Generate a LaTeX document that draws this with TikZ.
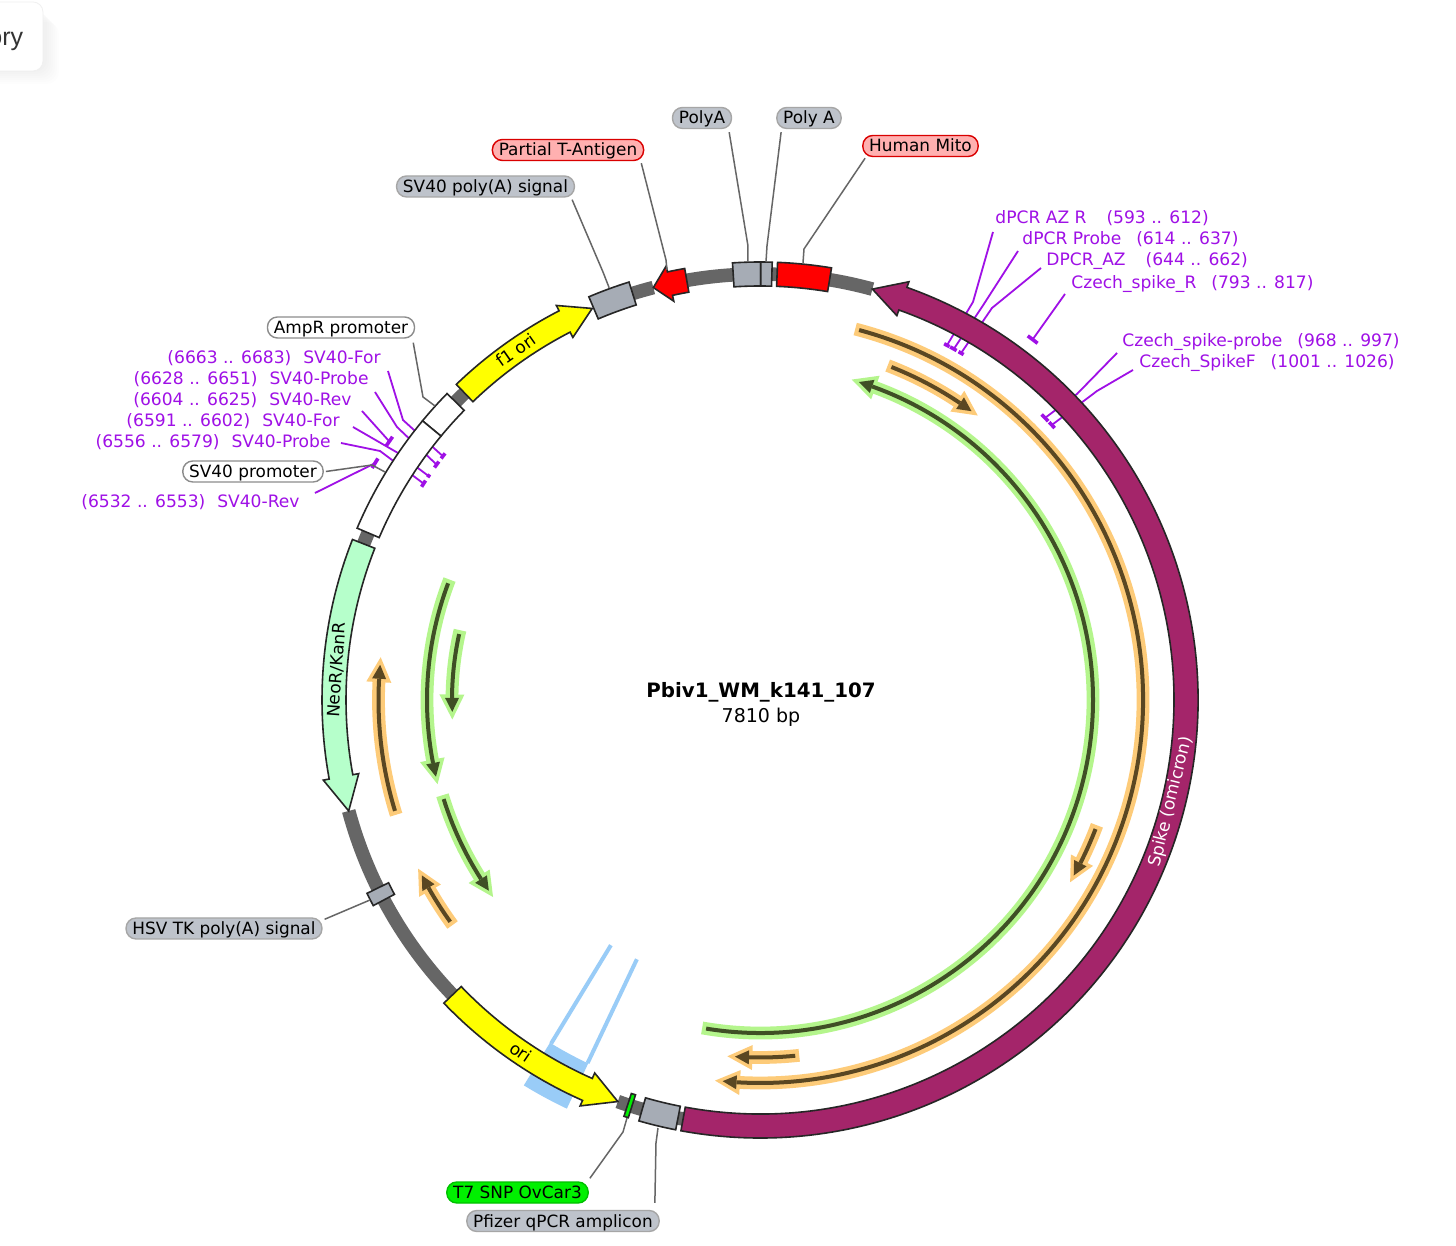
\documentclass[tikz,border=0pt]{standalone}
\usepackage{fontspec}
\usetikzlibrary{positioning}
\setmainfont{DejaVu Sans}
\newfontfamily\cardfont{Liberation Sans}
\definecolor{spikec}{HTML}{A4256A}
\definecolor{neoc}{HTML}{B6FFCB}
\definecolor{boxc}{HTML}{A6ACB5}
\definecolor{tagc}{HTML}{BEC3CB}
\definecolor{pinkc}{HTML}{FFB0B0}
\definecolor{bluec}{HTML}{99CCF7}
\definecolor{primerc}{HTML}{9F10E6}
\definecolor{glowo}{HTML}{FDCB79}
\definecolor{glowg}{HTML}{B4F58C}
\definecolor{darko}{HTML}{5A4722}
\definecolor{darkg}{HTML}{3F4F25}
\definecolor{oric}{HTML}{FFFF00}
\definecolor{redc}{HTML}{FF0000}
\definecolor{snpc}{HTML}{00F000}
\tikzset{
  feat/.style={draw=black!85,line width=0.8pt,line join=miter},
  tag/.style={draw=#1,rounded corners=5pt,minimum height=10.5pt,inner xsep=3.2pt,inner ysep=0pt,text height=7pt,text depth=1pt,line width=0.7pt,font=\fontsize{8.45}{10}\selectfont},
  primer/.style={text=primerc,inner sep=0pt,text height=6.5pt,text depth=0.5pt,font=\fontsize{8.55}{10}\selectfont},
  conn/.style={draw=black!60,line width=0.75pt},
  pline/.style={draw=primerc,line width=0.9pt},
  ptick/.style={draw=primerc,line width=1.8pt},
  onfeat/.style={inner sep=0pt,font=\fontsize{8.5}{10}\selectfont}
}
\newcommand{\bbone}[2]{\draw[black!60,line width=6.8pt] (#1:426) arc[start angle=#1,end angle=#2,radius=426];}
\newcommand{\featbox}[3]{\draw[feat,#1] (#2:414) arc[start angle=#2,end angle=#3,radius=414] -- (#3:438) arc[start angle=#3,end angle=#2,radius=438] -- cycle;}
\newcommand{\featarrow}[4]{\draw[feat,#1] (#2:414) arc[start angle=#2,end angle=#3,radius=414] -- (#3:408) -- (#4:426) -- (#3:444) -- (#3:438) arc[start angle=#3,end angle=#2,radius=438] -- cycle;}
\newcommand{\ptk}[4][]{\pgfmathsetmacro{\pa}{90-#2*0.046095}\pgfmathsetmacro{\pb}{90-#3*0.046095}\draw[ptick,#1] (\pa:#4) arc[start angle=\pa,end angle=\pb,radius=#4];}
\newcommand{\orf}[5]{%
  \pgfmathsetmacro{\sg}{(#5>#4)?1:-1}
  \pgfmathsetmacro{\dg}{57.3/#3}
  \pgfmathsetmacro{\at}{#4+\sg*4*\dg}
  \pgfmathsetmacro{\ad}{#5-\sg*8*\dg}
  \pgfmathsetmacro{\ab}{\ad-\sg*14*\dg}
  \pgfmathsetmacro{\ri}{#3-7}
  \pgfmathsetmacro{\ro}{#3+7}
  \draw[#1,line width=6.4pt] (#4:#3) arc[start angle=#4,end angle=\ab,radius=#3];
  \draw[#1,fill=#1,line width=3.4pt,line join=miter] (\ab:\ri) -- (\ad:#3) -- (\ab:\ro) -- cycle;
  \draw[#2,line width=2pt] (\at:#3) arc[start angle=\at,end angle=\ab,radius=#3];
  \fill[#2] (\ab:\ri) -- (\ad:#3) -- (\ab:\ro) -- cycle;}

\begin{document}
\begin{tikzpicture}[x=0.5pt,y=0.5pt]
    \useasboundingbox (-760,-546) rectangle (696,700);
    \clip (-760,-546) rectangle (696,700);
    \fill[white] (-760,-546) rectangle (696,700);

    % card in the corner
    \foreach \k in {2,4,...,14}
      \fill[black,opacity=0.007,rounded corners=6pt] (-800,{692-\k}) rectangle ({-715+\k},{630-\k});
    \draw[black!6,fill=white,rounded corners=5pt] (-800,698) rectangle (-717,629);
    \node[anchor=east,inner sep=0pt,text=black!80,font=\cardfont\fontsize{12.5}{14}\selectfont] (card) at (-736.5,659) {ory};

    % blue restriction marks
    \fill[bluec] (238.5:402) arc[start angle=238.5,end angle=244.7,radius=402] -- (244.7:452) arc[start angle=244.7,end angle=238.5,radius=452] -- cycle;
    \draw[bluec,line width=2pt] (238.7:402) -- (238.7:287);
    \draw[bluec,line width=2pt] (244.6:402) -- (244.6:287);

    % backbone
    \bbone{74.7}{99.9}
    \bbone{104.5}{113}
    \bbone{133.9}{158.5}
    \bbone{195.1}{223.8}
    \bbone{250.5}{259.6}

    % primer labels
    \node[primer,anchor=west] (dpcrR) at (235,482) {dPCR AZ R\hspace{10pt}(593 .. 612)};
    \node[primer,anchor=west] (dpcrP) at (262,461) {dPCR Probe\hspace{7.5pt}(614 .. 637)};
    \node[primer,anchor=west] (dpcrA) at (286,440) {DPCR\_AZ\hspace{10pt}(644 .. 662)};
    \node[primer,anchor=west] (czechR) at (311,417) {Czech\_spike\_R\hspace{7.5pt}(793 .. 817)};
    \node[primer,anchor=west] (czechP) at (362,359) {Czech\_spike-probe\hspace{7.5pt}(968 .. 997)};
    \node[primer,anchor=west] (czechF) at (379,338) {Czech\_SpikeF\hspace{7.5pt}(1001 .. 1026)};
    \node[primer,anchor=east] (svA) at (-379,342) {(6663 .. 6683)\hspace{6pt}SV40-For};
    \node[primer,anchor=east] (svB) at (-391,321) {(6628 .. 6651)\hspace{6pt}SV40-Probe};
    \node[primer,anchor=east] (svC) at (-408,300) {(6604 .. 6625)\hspace{6pt}SV40-Rev};
    \node[primer,anchor=east] (svD) at (-420,279) {(6591 .. 6602)\hspace{6pt}SV40-For};
    \node[primer,anchor=east] (svE) at (-429,258) {(6556 .. 6579)\hspace{6pt}SV40-Probe};
    \node[primer,anchor=east] (svF) at (-460,198) {(6532 .. 6553)\hspace{6pt}SV40-Rev};

    % primer lines, these pass under the features
    \draw[pline] ([xshift=-1pt,yshift=-7pt]dpcrR.west) -- (213,398) -- (62.2:401);
    \draw[pline] ([xshift=-2pt,yshift=-6pt]dpcrP.west) -- (222,393) -- (61.1:401);
    \draw[pline] ([xshift=-2.5pt,yshift=-4pt]dpcrA.west) -- (232,392) -- (59.9:401);
    \draw[pline] ([xshift=-3pt,yshift=-5.5pt]czechR.west) -- (52.9:452);
    \draw[pline] ([xshift=-2.5pt,yshift=-6pt]czechP.west) -- (317,306) -- (44.7:401);
    \draw[pline] ([xshift=-3pt,yshift=-4pt]czechF.west) -- (337,309) -- (43.3:401);
    \draw[pline] ([xshift=3.5pt,yshift=-6.5pt]svA.east) -- (-357,280) -- (142.45:400);
    \draw[pline] ([xshift=3pt,yshift=-6.5pt]svB.east) -- (-363,273) -- (143.95:400);
    \draw[pline] ([xshift=5pt,yshift=-5.5pt]svC.east) -- (145.1:452);
    \draw[pline] ([xshift=6.5pt,yshift=-3pt]svD.east) -- (-362,247) -- (145.95:400);
    \draw[pline] ([xshift=5pt,yshift=-0.5pt]svE.east) -- (-380,249) -- (147.25:400);
    \draw[pline] ([xshift=7.5pt,yshift=4.5pt]svF.east) -- (148.4:452);

    \ptk{593}{612}{401}
    \ptk{614}{637}{401}
    \ptk{644}{662}{401}
    \ptk[line cap=rect]{793}{817}{452}
    \ptk{968}{997}{401}
    \ptk{1001}{1026}{401}
    \ptk{6663}{6683}{400}
    \ptk{6628}{6651}{400}
    \ptk[line cap=rect]{6604}{6625}{452}
    \ptk{6591}{6602}{400}
    \ptk{6556}{6579}{400}
    \ptk[line cap=rect]{6532}{6553}{452}

    % features
    \featarrow{fill=spikec}{-100.4}{70.4}{74.7}
    \featarrow{fill=oric}{133.9}{117.3}{113.2}
    \featarrow{fill=neoc}{158.5}{190.4}{195.1}
    \featarrow{fill=oric}{223.8}{246.1}{250.5}
    \featarrow{fill=redc}{99.9}{102.2}{104.5}
    \featbox{fill=redc}{87.7}{80.6}
    \featbox{fill=boxc}{93.6}{89.9}
    \featbox{fill=boxc}{89.9}{88.4}
    \featbox{fill=boxc}{113}{107.4}
    \featbox{fill=white}{135.6}{140.4}
    \featbox{fill=white}{140.4}{156.9}
    \featbox{fill=boxc}{206.2}{208}
    \featbox{fill=snpc}{251.9}{252.5}
    \featbox{fill=boxc}{253.95}{258.9}

    % text on the features
    \node[onfeat,rotate=35] (f1txt) at (-244,350) {f1 ori};
    \node[onfeat,rotate=86] (neotxt) at (-423,30) {NeoR/KanR};
    \node[onfeat,rotate=-34] (oritxt) at (-239,-352) {ori};
    \node[onfeat,rotate=76,text=white] (spiketxt) at (411,-102) {Spike (omicron)};

    % ORFs inside the ring
    \orf{glowo}{darko}{383}{75.6}{-96.8}
    \orf{glowo}{darko}{358}{69.1}{52.5}
    \orf{glowo}{darko}{359.5}{-20.4}{-30.5}
    \orf{glowo}{darko}{357.5}{-83.7}{-95.3}
    \orf{glowg}{darkg}{333}{-100}{74.1}
    \orf{glowg}{darkg}{333}{158.8}{194.7}
    \orf{glowg}{darkg}{308}{166.9}{183.7}
    \orf{glowg}{darkg}{331.5}{196.7}{216.5}
    \orf{glowo}{darko}{381.5}{197.5}{173.5}
    \orf{glowo}{darko}{381}{216.2}{206.2}

    % tags
    \node[tag=redc!85!black,fill=pinkc] (tagTanti) at (-192,550) {Partial T-Antigen};
    \node[tag=black!35,fill=tagc] (tagSvpa) at (-274.5,513.5) {SV40 poly(A) signal};
    \node[tag=black!35,fill=tagc] (tagPolyA) at (-58,582) {PolyA};
    \node[tag=black!35,fill=tagc] (tagPolyB) at (49,582) {Poly A};
    \node[tag=redc!85!black,fill=pinkc] (tagMito) at (160.5,554) {Human Mito};
    \node[tag=black!45,fill=white] (tagAmp) at (-419,372.5) {AmpR promoter};
    \node[tag=black!45,fill=white] (tagSvp) at (-507,228.5) {SV40 promoter};
    \node[tag=black!35,fill=tagc] (tagHsv) at (-536,-228.5) {HSV TK poly(A) signal};
    \node[tag=snpc!80!black,fill=snpc] (tagT7) at (-242.5,-492.5) {T7 SNP OvCar3};
    \node[tag=black!35,fill=tagc] (tagPfz) at (-197,-521) {Pfizer qPCR amplicon};

    % tag connectors
    \draw[conn] ([xshift=-1.5pt,yshift=-1pt]tagSvpa.south east) -- (-157,428) -- (110.1:439);
    \draw[conn] ([xshift=-1.5pt,yshift=-1pt]tagTanti.south east) -- (-94,440) -- (-93,430);
    \draw[conn] ([xshift=-1.5pt,yshift=-1.5pt]tagPolyA.south east) -- (-12,454) -- (-12,438);
    \draw[conn] ([xshift=2.5pt,yshift=-1.5pt]tagPolyB.south west) -- (7,454) -- (6,438);
    \draw[conn] ([xshift=1.5pt,yshift=-0.5pt]tagMito.south west) -- (44,451) -- (43,437);
    \draw[conn] ([xshift=-1pt,yshift=-2pt]tagAmp.south east) -- (-337,303) -- (-325,294);
    \draw[conn] ([xshift=1pt]tagSvp.east) -- (-388,235) -- (-375,228);
    \draw[conn] ([xshift=1pt,yshift=-1pt]tagHsv.north east) -- (-390,-200);
    \draw[conn] ([xshift=0.5pt,yshift=1.5pt]tagT7.north east) -- (-137,-432) -- (-133,-418);
    \draw[conn] ([xshift=-2.5pt,yshift=3.5pt]tagPfz.north east) -- (-104,-443) -- (-102,-428);

    % name in the middle
    \node[font=\fontsize{9.9}{11}\bfseries\selectfont,inner sep=0pt] (plasname) at (1,8) {Pbiv1\_WM\_k141\_107};
    \node[font=\fontsize{9.5}{11}\selectfont,inner sep=0pt,below=2.5pt of plasname] (plassize) {7810 bp};
\end{tikzpicture}
\end{document}
